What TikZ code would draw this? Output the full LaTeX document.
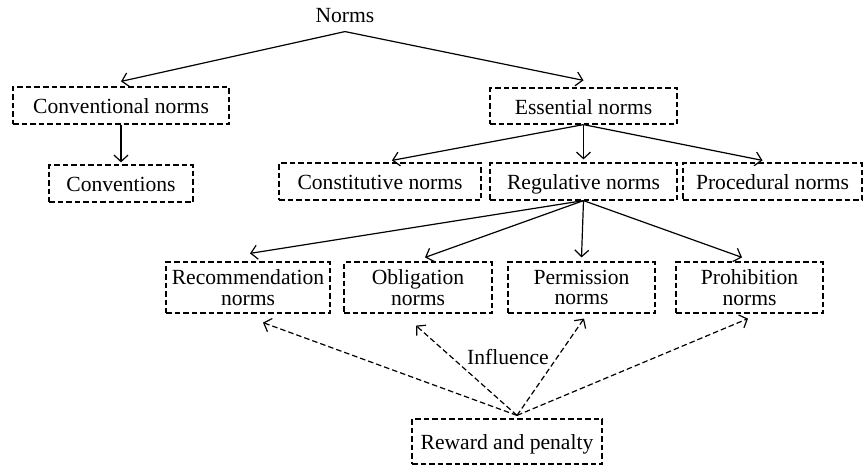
\documentclass[tikz,border=0pt]{standalone}
\usepackage{fontspec}
\setmainfont{Liberation Serif}
\usetikzlibrary{arrows.meta,calc,positioning}
\tikzset{
  normbox/.style={draw,line width=0.6pt,dash pattern=on 2.75pt off 1.5pt,minimum height=18.5pt,inner sep=0pt,align=center,font=\fontsize{10.8pt}{10.4pt}\selectfont},
  oneline/.style={normbox,text height=1.95ex,text depth=0.2ex},
  tree/.style={line width=0.6pt,-{Straight Barb[length=3.25pt,width=7pt]}},
  infl/.style={tree,dash pattern=on 2.75pt off 1.5pt}
}
\begin{document}
\begin{tikzpicture}[x=0.5pt,y=-0.5pt]
\useasboundingbox (0,0) rectangle (863,466);
\node[inner sep=4.25pt,font=\fontsize{10.8pt}{10.4pt}\selectfont] (norms) at (345,15.5) {Norms};
\node[oneline,minimum width=108pt] (conv) at (121,105.5) {Conventional norms};
\node[oneline,minimum width=72pt] (convs) at (121,183.5) {Conventions};
\node[oneline,minimum width=93.5pt,minimum height=18pt] (ess) at (583.5,106) {Essential norms};
\node[oneline,minimum width=101pt] (const) at (380,181.5) {Constitutive norms};
\node[oneline,minimum width=93.5pt] (reg) at (583.5,181.5) {Regulative norms};
\node[oneline,minimum width=89.5pt] (proc) at (772.5,181.5) {Procedural norms};
\node[normbox,minimum width=82pt,minimum height=25.5pt] (rec) at (248,287.5) {Recommendation\\norms};
\node[normbox,minimum width=74pt,minimum height=25.5pt] (obl) at (418,287.5) {Obligation\\norms};
\node[normbox,minimum width=73.5pt,minimum height=25.5pt] (perm) at (581.5,287.5) {Permission\\norms};
\node[normbox,minimum width=73.5pt,minimum height=25.5pt] (proh) at (749.5,287.5) {Prohibition\\norms};
\node[oneline,minimum width=95pt,minimum height=22.5pt] (rew) at (507,441.5) {Reward and penalty};
\node[font=\fontsize{10.8pt}{10.4pt}\selectfont] (influence) at (508,357) {Influence};
% top levels
\draw[tree] (norms.south) -- ([yshift=2.5pt]conv.north);
\draw[tree] (norms.south) -- ([yshift=3.5pt]ess.north);
\draw[tree] (conv.south) -- ([yshift=1pt]convs.north);
\draw[tree] (ess.south) -- ([xshift=6pt,yshift=1pt]const.north);
\draw[tree] (ess.south) -- ([yshift=1.5pt]reg.north);
\draw[tree] (ess.south) -- ([xshift=-5pt,yshift=1pt]proc.north);
% regulative norms
\draw[tree] (reg.south) -- ([xshift=1pt,yshift=4pt]rec.north);
\draw[tree] (reg.south) -- ([xshift=3.5pt,yshift=2pt]obl.north);
\draw[tree] (reg.south) -- ([yshift=2pt]perm.north);
\draw[tree] (reg.south) -- ([xshift=-3.75pt,yshift=2pt]proh.north);
% influence
\coordinate (src) at ([xshift=5pt,yshift=1.5pt]rew.north);
\draw[infl] (src) -- ([xshift=7.5pt,yshift=-4.5pt]rec.south);
\draw[infl] (src) -- ([xshift=-1pt,yshift=-6pt]obl.south);
\draw[infl] (src) -- ([xshift=1.25pt,yshift=-2.5pt]perm.south);
\draw[infl] (src) -- ([xshift=-0.75pt,yshift=-2.5pt]proh.south);
\end{tikzpicture}
\end{document}
